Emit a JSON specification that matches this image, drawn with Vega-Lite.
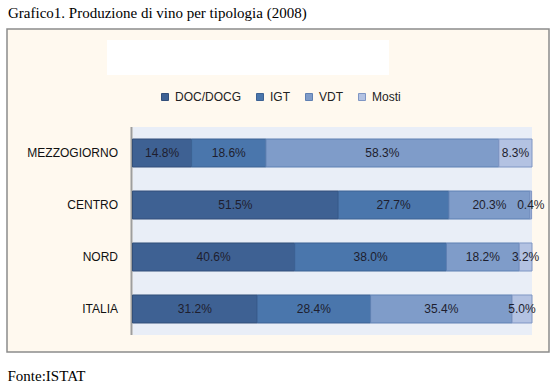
{
  "$schema": "https://vega.github.io/schema/vega-lite/v6.json",
  "width": 542,
  "height": 323,
  "autosize": {"type": "none"},
  "padding": {"left": 7, "top": 29, "right": 10, "bottom": 35},
  "background": "#FFFFFF",
  "title": {
    "text": "Grafico1. Produzione di vino  per tipologia (2008)",
    "anchor": "start",
    "frame": "group",
    "font": "Liberation Serif",
    "fontSize": 15,
    "fontWeight": "normal",
    "color": "#000000",
    "baseline": "alphabetic",
    "offset": 12,
    "dx": 1,
    "dy": 16
  },
  "config": {
    "view": {"fill": "#FFF9EF", "stroke": "#8C8C8C", "strokeWidth": 1.5},
    "axisX": {"labels": false, "ticks": false, "domain": false, "grid": false,
      "titleFont": "Liberation Serif", "titleFontSize": 15, "titleFontWeight": "normal", "titleColor": "#000000",
      "titleAnchor": "start", "titleAlign": "left", "titleX": 0, "titleY": 28, "titleBaseline": "alphabetic"}
  },
  "data": {"values": [
    {"area": "MEZZOGIORNO", "tipo": "DOC/DOCG", "ord": 1, "v": 0.148},
    {"area": "MEZZOGIORNO", "tipo": "IGT", "ord": 2, "v": 0.186},
    {"area": "MEZZOGIORNO", "tipo": "VDT", "ord": 3, "v": 0.583},
    {"area": "MEZZOGIORNO", "tipo": "Mosti", "ord": 4, "v": 0.083},
    {"area": "CENTRO", "tipo": "DOC/DOCG", "ord": 1, "v": 0.515},
    {"area": "CENTRO", "tipo": "IGT", "ord": 2, "v": 0.277},
    {"area": "CENTRO", "tipo": "VDT", "ord": 3, "v": 0.203},
    {"area": "CENTRO", "tipo": "Mosti", "ord": 4, "v": 0.004},
    {"area": "NORD", "tipo": "DOC/DOCG", "ord": 1, "v": 0.406},
    {"area": "NORD", "tipo": "IGT", "ord": 2, "v": 0.380},
    {"area": "NORD", "tipo": "VDT", "ord": 3, "v": 0.182},
    {"area": "NORD", "tipo": "Mosti", "ord": 4, "v": 0.032},
    {"area": "ITALIA", "tipo": "DOC/DOCG", "ord": 1, "v": 0.312},
    {"area": "ITALIA", "tipo": "IGT", "ord": 2, "v": 0.284},
    {"area": "ITALIA", "tipo": "VDT", "ord": 3, "v": 0.354},
    {"area": "ITALIA", "tipo": "Mosti", "ord": 4, "v": 0.050}
  ]},
  "layer": [
    {
      "data": {"values": [{"zona": "titolo", "da": -0.0638, "a": 0.642}]},
      "mark": {"type": "rect", "fill": "#FFFFFF"},
      "encoding": {
        "x": {"field": "da", "type": "quantitative", "scale": {"domain": [-0.3141, 1.04255], "nice": false, "zero": false}, "axis": {"title": "Fonte:ISTAT"}},
        "x2": {"field": "a"},
        "y": {"field": "zona", "type": "nominal", "scale": {"type": "band", "range": [11, 46], "paddingInner": 0, "paddingOuter": 0}, "axis": null}
      }
    },
    {
      "data": {"values": [{"zona": "grafico", "da": 0, "a": 1}]},
      "mark": {"type": "rect", "fill": "#E9EEF7"},
      "encoding": {
        "x": {"field": "da", "type": "quantitative", "scale": {"domain": [-0.3141, 1.04255], "nice": false, "zero": false}, "axis": {"title": "Fonte:ISTAT"}},
        "x2": {"field": "a"},
        "y": {"field": "zona", "type": "nominal", "scale": {"type": "band", "range": [98, 306], "paddingInner": 0, "paddingOuter": 0}, "axis": null}
      }
    },
    {
      "data": {"values": [{"zona": "grafico", "da": -0.005, "a": 0}]},
      "mark": {"type": "rect", "fill": "#9E9E9E"},
      "encoding": {
        "x": {"field": "da", "type": "quantitative", "scale": {"domain": [-0.3141, 1.04255], "nice": false, "zero": false}, "axis": {"title": "Fonte:ISTAT"}},
        "x2": {"field": "a"},
        "y": {"field": "zona", "type": "nominal", "scale": {"type": "band", "range": [98, 306], "paddingInner": 0, "paddingOuter": 0}, "axis": null}
      }
    },
    {
      "mark": {"type": "bar", "strokeWidth": 1},
      "encoding": {
        "x": {"field": "v", "type": "quantitative", "stack": "zero", "scale": {"domain": [-0.3141, 1.04255], "nice": false, "zero": false}, "axis": {"title": "Fonte:ISTAT"}},
        "y": {"field": "area", "type": "nominal", "sort": ["MEZZOGIORNO", "CENTRO", "NORD", "ITALIA"],
          "scale": {"type": "band", "range": [98, 306], "paddingInner": 0.4615, "paddingOuter": 0.2308},
          "axis": {"title": null, "domain": false, "ticks": false, "grid": false, "offset": -125.5, "labelPadding": 15,
            "labelFont": "Liberation Sans", "labelFontSize": 12, "labelColor": "#111111"}},
        "fill": {"field": "tipo", "type": "nominal",
          "scale": {"domain": ["DOC/DOCG", "IGT", "VDT", "Mosti"], "range": ["#3E6193", "#4A76AC", "#7F9CC9", "#B3C2E2"]},
          "legend": {"orient": "none", "legendX": 152, "legendY": 62, "direction": "horizontal", "title": null,
            "symbolType": "square", "symbolSize": 49, "symbolStrokeWidth": 1, "labelFont": "Liberation Sans", "labelFontSize": 12,
            "labelColor": "#222222", "labelOffset": 4, "columnPadding": 13, "padding": 0}},
        "stroke": {"field": "tipo", "type": "nominal",
          "scale": {"domain": ["DOC/DOCG", "IGT", "VDT", "Mosti"], "range": ["#324F7A", "#3C6294", "#5F80B3", "#7F96C4"]},
          "legend": {"orient": "none", "legendX": 152, "legendY": 62, "direction": "horizontal", "title": null,
            "symbolType": "square", "symbolSize": 49, "symbolStrokeWidth": 1, "labelFont": "Liberation Sans", "labelFontSize": 12,
            "labelColor": "#222222", "labelOffset": 4, "columnPadding": 13, "padding": 0}},
        "order": {"field": "ord", "type": "quantitative"}
      }
    },
    {
      "mark": {"type": "text", "font": "Liberation Sans", "fontSize": 12, "color": "#1E1E2E", "align": "center", "baseline": "middle"},
      "encoding": {
        "x": {"field": "v", "type": "quantitative", "stack": "zero", "bandPosition": 0.5, "scale": {"domain": [-0.3141, 1.04255], "nice": false, "zero": false}, "axis": {"title": "Fonte:ISTAT"}},
        "y": {"field": "area", "type": "nominal", "sort": ["MEZZOGIORNO", "CENTRO", "NORD", "ITALIA"],
          "scale": {"type": "band", "range": [98, 306], "paddingInner": 0.4615, "paddingOuter": 0.2308}, "axis": null},
        "detail": {"field": "tipo", "type": "nominal"},
        "order": {"field": "ord", "type": "quantitative"},
        "text": {"field": "v", "type": "quantitative", "format": ".1%"}
      }
    }
  ],
  "resolve": {"scale": {"y": "independent"}}
}
